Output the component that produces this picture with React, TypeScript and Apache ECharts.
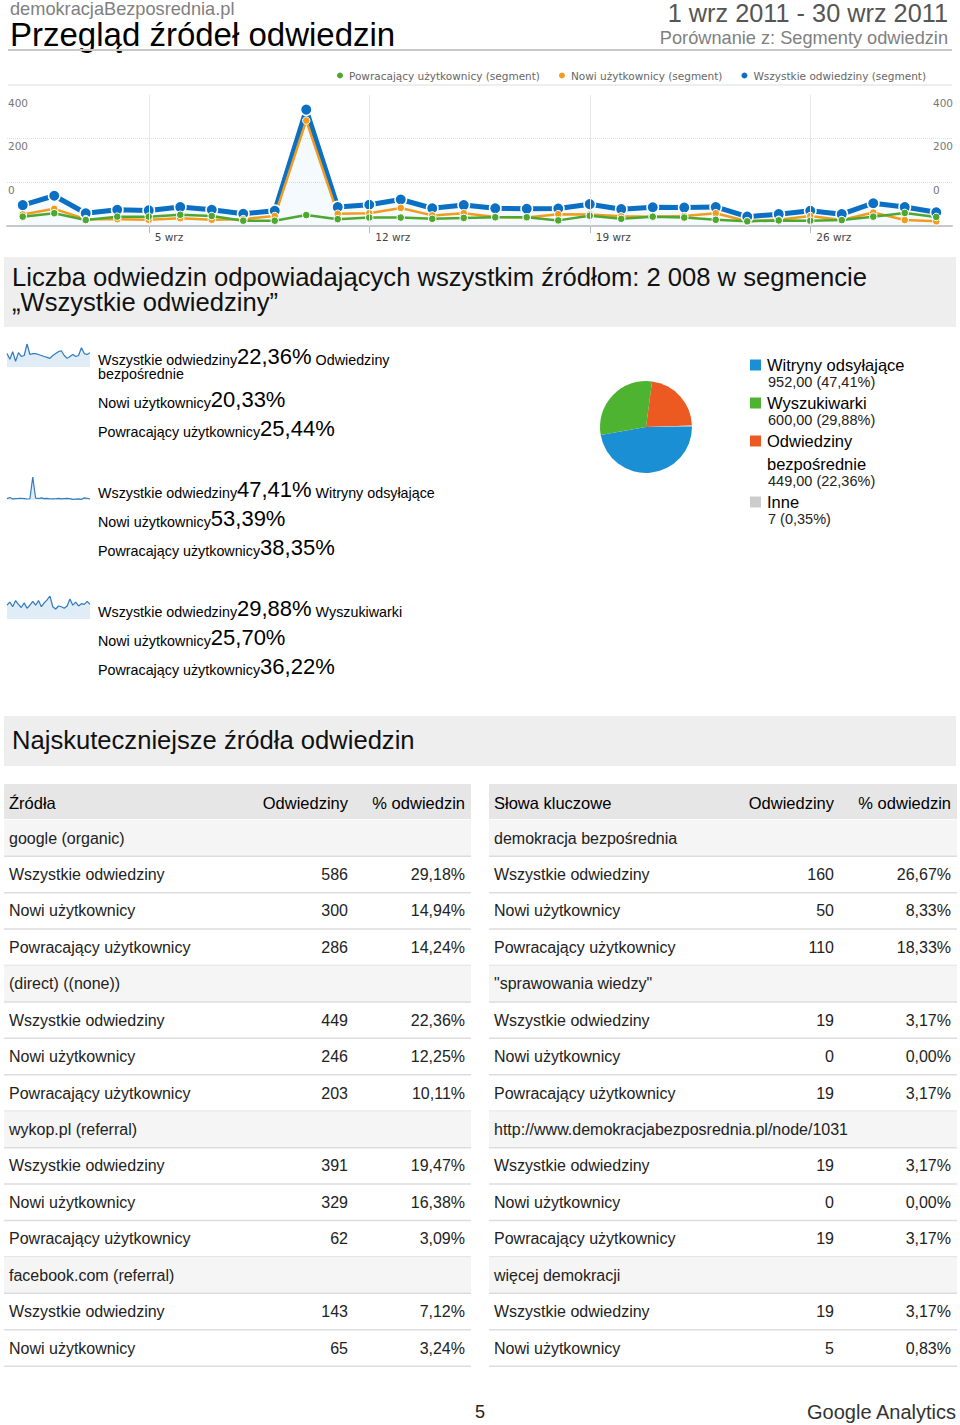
import React, { useEffect, useRef } from 'react';
import * as echarts from 'echarts';

// ---------- data ----------
const days = ['1 wrz','2 wrz','3 wrz','4 wrz','5 wrz','6 wrz','7 wrz','8 wrz','9 wrz','10 wrz','11 wrz','12 wrz','13 wrz','14 wrz','15 wrz','16 wrz','17 wrz','18 wrz','19 wrz','20 wrz','21 wrz','22 wrz','23 wrz','24 wrz','25 wrz','26 wrz','27 wrz','28 wrz','29 wrz','30 wrz'];
const xTickLabels = ['5 wrz', '12 wrz', '19 wrz', '26 wrz'];
const yTickLabels = ['', '0', '200', '400'];

const returningVisits = [30,41,19,30,30,36,32,17,17,35,22,27,27,23,26,28,28,18,33,23,30,27,20,15,18,17,19,30,42,29];
const newVisits = [37,55,22,22,20,25,20,22,32,338,39,41,58,34,41,29,27,38,37,31,30,32,41,15,20,32,19,43,19,15];
const allVisits = [67,97,41,52,50,61,52,39,49,373,61,68,85,57,67,57,55,56,70,54,60,59,61,30,38,49,38,73,61,44];

const seriesNames = ['Powracający użytkownicy (segment)', 'Nowi użytkownicy (segment)', 'Wszystkie odwiedziny (segment)'];

const sparkDirect = [14,8,16,6,15,11,12,24,13,14,14,13,12,11,10,9,12,14,16,17,12,9,11,13,11,12,20,14,13,15];
const sparkReferral = [20,35,15,20,22,25,20,14,18,330,25,22,30,20,22,18,17,18,24,17,20,22,20,8,12,16,10,30,25,14];
const sparkSearch = [18,22,16,24,19,15,21,14,18,23,18,24,16,21,25,30,16,13,17,16,14,17,26,18,22,17,20,19,23,19];

const segmentNames = ['Wszystkie odwiedziny', 'Nowi użytkownicy', 'Powracający użytkownicy'];
const channelLabelLines = [['Odwiedziny', 'bezpośrednie'], ['Witryny odsyłające'], ['Wyszukiwarki']];
const directShares = ['22,36%', '20,33%', '25,44%'];
const referralShares = ['47,41%', '53,39%', '38,35%'];
const searchShares = ['29,88%', '25,70%', '36,22%'];

const pieNames = ['Witryny odsyłające', 'Wyszukiwarki', 'Odwiedziny bezpośrednie', 'Inne'];
const pieValues = [952, 600, 449, 7];
const pieLegendLines = [['Witryny odsyłające'], ['Wyszukiwarki'], ['Odwiedziny', 'bezpośrednie'], ['Inne']];
const pieValueLabels = ['952,00 (47,41%)', '600,00 (29,88%)', '449,00 (22,36%)', '7 (0,35%)'];
const pieDrawOrder = [2, 3, 0, 1];

const sourceHeaders = ['Źródła', 'Odwiedziny', '% odwiedzin'];
const sourceNames = ['google (organic)','Wszystkie odwiedziny','Nowi użytkownicy','Powracający użytkownicy','(direct) ((none))','Wszystkie odwiedziny','Nowi użytkownicy','Powracający użytkownicy','wykop.pl (referral)','Wszystkie odwiedziny','Nowi użytkownicy','Powracający użytkownicy','facebook.com (referral)','Wszystkie odwiedziny','Nowi użytkownicy'];
const sourceVisits = ['', '586', '300', '286', '', '449', '246', '203', '', '391', '329', '62', '', '143', '65'];
const sourceShares = ['', '29,18%', '14,94%', '14,24%', '', '22,36%', '12,25%', '10,11%', '', '19,47%', '16,38%', '3,09%', '', '7,12%', '3,24%'];

const keywordHeaders = ['Słowa kluczowe', 'Odwiedziny', '% odwiedzin'];
const keywordNames = ['demokracja bezpośrednia','Wszystkie odwiedziny','Nowi użytkownicy','Powracający użytkownicy','"sprawowania wiedzy"','Wszystkie odwiedziny','Nowi użytkownicy','Powracający użytkownicy','http://www.demokracjabezposrednia.pl/node/1031','Wszystkie odwiedziny','Nowi użytkownicy','Powracający użytkownicy','więcej demokracji','Wszystkie odwiedziny','Nowi użytkownicy'];
const keywordVisits = ['', '160', '50', '110', '', '19', '0', '19', '', '19', '0', '19', '', '19', '5'];
const keywordShares = ['', '26,67%', '8,33%', '18,33%', '', '3,17%', '0,00%', '3,17%', '', '3,17%', '0,00%', '3,17%', '', '3,17%', '0,83%'];

// ---------- styles ----------
const SANS = '"Liberation Sans", Arial, Helvetica, sans-serif';
const DJ = '"DejaVu Sans", Verdana, sans-serif';
const C_GREEN = '#4ea72e';
const C_ORANGE = '#f19b1f';
const C_BLUE = '#0b6fc4';
const PIE_COLORS = ['#1a8fd4', '#4fb332', '#ec5a21', '#cccccc'];

function txt(x: number, y: number, text: string, o: any = {}) {
  return {
    type: 'text', x, y, silent: true,
    style: {
      text,
      fill: o.fill || '#222',
      fontSize: o.size || 16,
      fontFamily: o.family || SANS,
      fontWeight: o.weight || 'normal',
      align: o.align || 'left',
      textAlign: o.align || 'left',
      verticalAlign: o.va || 'middle',
      textVerticalAlign: o.va || 'middle',
      lineHeight: o.lineHeight,
      rich: o.rich,
    },
  };
}
function rect(x: number, y: number, w: number, h: number, fill: string) {
  return { type: 'rect', silent: true, shape: { x, y, width: w, height: h }, style: { fill } };
}
function hline(x1: number, x2: number, y: number, stroke: string, lw: number) {
  return { type: 'line', silent: true, shape: { x1, y1: y, x2, y2: y }, style: { stroke, lineWidth: lw } };
}

function buildTable(x0: number, x1: number, headers: string[], names: string[], visits: string[], shares: string[], visitsRight: number, sharesRight: number) {
  const els: any[] = [];
  els.push(rect(x0, 784, x1 - x0, 35, '#e6e6e6'));
  els.push(txt(x0 + 5, 803, headers[0], { size: 16.5, fill: '#000' }));
  els.push(txt(visitsRight, 803, headers[1], { size: 16.5, fill: '#000', align: 'right' }));
  els.push(txt(sharesRight, 803, headers[2], { size: 16.5, fill: '#000', align: 'right' }));
  names.forEach((n, i) => {
    const cy = 838 + i * 36.43;
    if (visits[i] === '') els.push(rect(x0, cy - 18.2, x1 - x0, 36.4, '#f5f5f5'));
    els.push(hline(x0, x1, cy + 18.2, '#dddddd', 1.5));
    els.push(txt(x0 + 5, cy, n, { size: 16, fill: '#222' }));
    if (visits[i] !== '') {
      els.push(txt(visitsRight, cy, visits[i], { size: 16, fill: '#222', align: 'right' }));
      els.push(txt(sharesRight, cy, shares[i], { size: 16, fill: '#222', align: 'right' }));
    }
  });
  return els;
}

const sparkRich = {
  a: { fontSize: 14.3, fontFamily: SANS, fill: '#000', verticalAlign: 'bottom', lineHeight: 16.5 },
  b: { fontSize: 22, fontFamily: SANS, fill: '#000', verticalAlign: 'bottom', lineHeight: 20 },
};

export default function App() {
  const ref = useRef<HTMLDivElement>(null);
  useEffect(() => {
    if (!ref.current) return;
    const chart = echarts.init(ref.current, undefined, { renderer: 'svg' });

    const els: any[] = [];
    // header
    els.push(txt(10, 9, 'demokracjaBezposrednia.pl', { size: 18.2, fill: '#808080', lineHeight: 17 }));
    els.push(txt(10, 34, 'Przegląd źródeł odwiedzin', { size: 33, fill: '#000', lineHeight: 30 }));
    els.push(txt(948, 13, '1 wrz 2011 - 30 wrz 2011', { size: 25.3, fill: '#555', align: 'right', lineHeight: 24 }));
    els.push(txt(948, 38, 'Porównanie z: Segmenty odwiedzin', { size: 18.2, fill: '#808080', align: 'right', lineHeight: 18 }));
    els.push(hline(8, 952, 50, '#c8c8c8', 2));
    els.push(hline(8, 952, 85, '#e8e8e8', 1.5));

    // summary box
    els.push(rect(4, 257, 952, 70, '#eeeeee'));
    els.push(txt(12, 277, 'Liczba odwiedzin odpowiadających wszystkim źródłom: 2 008 w segmencie', { size: 25.6, fill: '#111', lineHeight: 24 }));
    els.push(txt(12, 302, '„Wszystkie odwiedziny”', { size: 25.6, fill: '#111', lineHeight: 24 }));

    // sparkline blocks
    const blockShares = [directShares, referralShares, searchShares];
    const blockTops: number[] = [];
    let y = 358;
    blockShares.forEach((shares, b) => {
      blockTops.push(y);
      shares.forEach((s, li) => {
        let t = '{a|' + segmentNames[li] + '}{b|' + s + '}';
        if (li === 0) t += '{a| ' + channelLabelLines[b][0] + '}';
        els.push(txt(98, y - 1, t, { rich: sparkRich }));
        if (li === 0 && channelLabelLines[b].length > 1) {
          els.push(txt(98, y + 15.5, channelLabelLines[b][1], { size: 14.3, fill: '#000', lineHeight: 14 }));
          y += 14;
        }
        if (li < shares.length - 1) y += 29;
      });
      y += 61;
    });

    // pie legend
    let ly = 365;
    pieNames.forEach((n, i) => {
      els.push(rect(750, ly - 5.5, 11, 11, PIE_COLORS[i]));
      const lines = pieLegendLines[i];
      lines.forEach((l, k) => {
        els.push(txt(767, ly, l, { size: 16.5, fill: '#000' }));
        if (k < lines.length - 1) ly += 23;
      });
      ly += 17;
      els.push(txt(768, ly, pieValueLabels[i], { size: 14.5, fill: '#222' }));
      ly += 21;
    });

    // top sources box
    els.push(rect(4, 716, 952, 50, '#eeeeee'));
    els.push(txt(12, 740, 'Najskuteczniejsze źródła odwiedzin', { size: 25.6, fill: '#111' }));

    els.push(...buildTable(4, 471, sourceHeaders, sourceNames, sourceVisits, sourceShares, 348, 465));
    els.push(...buildTable(489, 957, keywordHeaders, keywordNames, keywordVisits, keywordShares, 834, 951));

    // footer
    els.push(txt(480, 1412, '5', { size: 18, fill: '#222', align: 'center' }));
    els.push(txt(956, 1412, 'Google Analytics', { size: 20, fill: '#333', align: 'right' }));

    const showTick = (_i: number, v: string) => xTickLabels.includes(v);
    const yLabel = (_v: number, i: number) => yTickLabels[i] ?? '';

    const sparkSets = [sparkDirect, sparkReferral, sparkSearch];
    const sparkGrids = blockTops.map((t) => ({ left: 7, width: 83, top: t - 14, height: 23 }));

    const option: any = {
      animation: false,
      legend: {
        data: seriesNames,
        right: 29, top: 65,
        icon: 'circle', itemWidth: 8, itemHeight: 8, itemGap: 17,
        textStyle: { fontFamily: DJ, fontSize: 10.5, color: '#666' },
        selectedMode: false,
      },
      grid: [{ left: 7, right: 8, top: 95, height: 131 }, ...sparkGrids],
      xAxis: [
        {
          type: 'category', data: days, boundaryGap: true, gridIndex: 0,
          axisLine: { lineStyle: { color: '#c8c8c8', width: 2 } },
          axisTick: { show: true, alignWithLabel: true, interval: showTick, length: 7, lineStyle: { color: '#bbb' } },
          axisLabel: { interval: showTick, align: 'left', padding: [0, 0, 0, 6], margin: 5, fontFamily: DJ, fontSize: 10.5, color: '#444' },
          splitLine: { show: false },
        },
        ...sparkSets.map((_, i) => ({ type: 'category', data: days, boundaryGap: false, gridIndex: i + 1, show: false })),
      ],
      yAxis: [
        {
          type: 'value', min: 0, max: 420, interval: 140, gridIndex: 0, position: 'left',
          axisLine: { show: false }, axisTick: { show: false },
          axisLabel: { formatter: yLabel, align: 'left', margin: -1, verticalAlign: 'top', padding: [2, 0, 0, 0], fontFamily: DJ, fontSize: 10.5, color: '#777' },
          splitLine: { show: true, lineStyle: { type: 'dotted', color: ['#dddddd', '#dddddd', '#dddddd', 'rgba(0,0,0,0)'] } },
        },
        {
          type: 'value', min: 0, max: 420, interval: 140, gridIndex: 0, position: 'right',
          axisLine: { show: false }, axisTick: { show: false },
          axisLabel: { formatter: yLabel, align: 'left', margin: -19, verticalAlign: 'top', padding: [2, 0, 0, 0], fontFamily: DJ, fontSize: 10.5, color: '#777' },
          splitLine: { show: false },
        },
        ...sparkSets.map((_, i) => ({ type: 'value', min: 0, max: 'dataMax', gridIndex: i + 1, show: false })),
      ],
      series: [
        {
          name: seriesNames[2], type: 'line', data: allVisits, xAxisIndex: 0, yAxisIndex: 0,
          symbol: 'circle', symbolSize: 11.5, showSymbol: true, silent: true,
          lineStyle: { color: C_BLUE, width: 5 },
          itemStyle: { color: C_BLUE, borderColor: '#fff', borderWidth: 1.5 },
          areaStyle: { color: 'rgba(5,141,199,0.06)' },
          markLine: {
            silent: true, symbol: ['none', 'none'], label: { show: false },
            lineStyle: { color: '#e8e8e8', type: 'solid', width: 1 },
            data: xTickLabels.map((d) => ({ xAxis: d })),
          },
        },
        {
          name: seriesNames[1], type: 'line', data: newVisits, xAxisIndex: 0, yAxisIndex: 0,
          symbol: 'circle', symbolSize: 7.5, showSymbol: true, silent: true,
          lineStyle: { color: C_ORANGE, width: 2.5 },
          itemStyle: { color: C_ORANGE, borderColor: '#fff', borderWidth: 1 },
        },
        {
          name: seriesNames[0], type: 'line', data: returningVisits, xAxisIndex: 0, yAxisIndex: 0,
          symbol: 'circle', symbolSize: 7.5, showSymbol: true, silent: true,
          lineStyle: { color: C_GREEN, width: 2.5 },
          itemStyle: { color: C_GREEN, borderColor: '#fff', borderWidth: 1 },
        },
        ...sparkSets.map((d, i) => ({
          name: 'spark' + i, type: 'line', data: d, xAxisIndex: i + 1, yAxisIndex: i + 2,
          showSymbol: false, silent: true,
          lineStyle: { color: '#2f7bbf', width: 1.2 },
          areaStyle: { color: '#e0ecf6', opacity: 1 },
        })),
        {
          name: 'pie', type: 'pie', center: [646, 427], radius: 46, startAngle: 82.4, clockwise: true,
          silent: true, label: { show: false }, labelLine: { show: false },
          itemStyle: { borderWidth: 0 },
          data: pieDrawOrder.map((i) => ({ name: pieNames[i], value: pieValues[i], itemStyle: { color: PIE_COLORS[i] } })),
        },
      ],
      graphic: { elements: els },
    };
    chart.setOption(option);
    return () => chart.dispose();
  }, []);
  return <div ref={ref} style={{ position: 'absolute', left: 0, top: 0, width: 960, height: 1425, background: '#fff' }} />;
}
